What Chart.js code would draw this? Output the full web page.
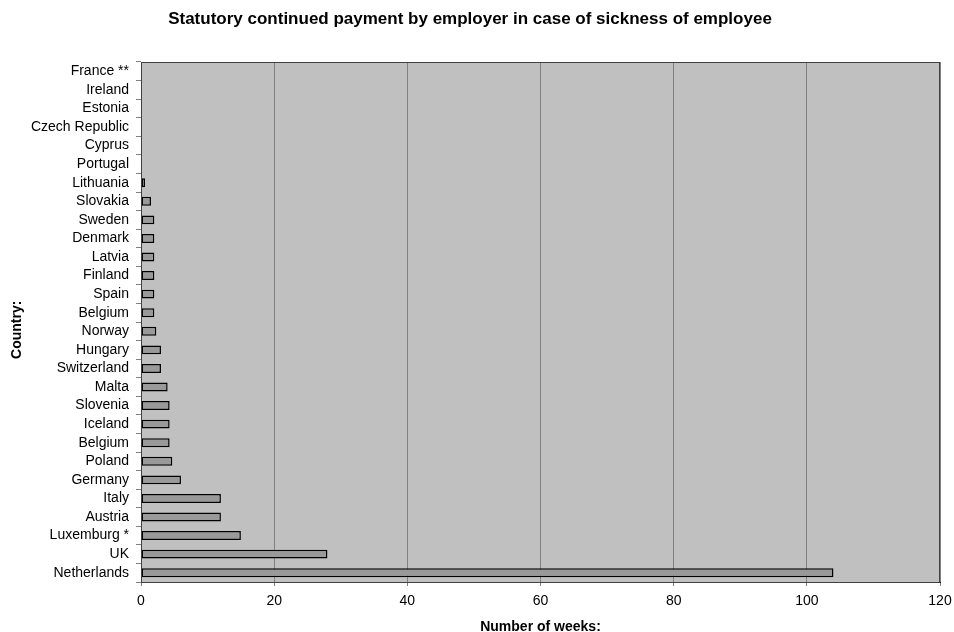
<!DOCTYPE html>
<html>
<head>
<meta charset="utf-8">
<script src="https://cdn.jsdelivr.net/npm/chart.js@4"></script>
<style>
  html, body { margin: 0; padding: 0; background: #fff; }
  #wrap { width: 954px; height: 632px; }
</style>
</head>
<body>
<div id="wrap"><canvas id="sick-chart" width="954" height="632"></canvas></div>
<script>
// countries, top to bottom as in the picture
const countries = [
  "France **", "Ireland", "Estonia", "Czech Republic", "Cyprus", "Portugal",
  "Lithuania", "Slovakia", "Sweden", "Denmark", "Latvia", "Finland", "Spain",
  "Belgium", "Norway", "Hungary", "Switzerland", "Malta", "Slovenia", "Iceland",
  "Belgium", "Poland", "Germany", "Italy", "Austria", "Luxemburg *", "UK", "Netherlands"
];
// number of weeks of continued payment
const weeks = [
  0, 0, 0, 0, 0, 0,
  0.6, 1.5, 2, 2, 2, 2, 2,
  2, 2.3, 3, 3, 4, 4.3, 4.3,
  4.3, 4.7, 6, 12, 12, 15, 28, 104
];
const xMin = 0;
const xMax = 120;
const xStep = 20;

// grey plot background + frame
const plotFrame = {
  id: "plotFrame",
  beforeDraw(chart) {
    const { ctx, chartArea: a } = chart;
    ctx.save();
    ctx.fillStyle = "#c0c0c0";
    ctx.fillRect(a.left, a.top, a.right - a.left, a.bottom - a.top);
    ctx.restore();
  },
  afterDraw(chart) {
    const { ctx, chartArea: a } = chart;
    ctx.save();
    ctx.strokeStyle = "#404040";
    ctx.lineWidth = 1;
    ctx.strokeRect(a.left + 0.5, a.top + 0.5, a.right - a.left - 1, a.bottom - a.top);
    ctx.restore();
  }
};

Chart.defaults.font.family = "Arial, 'Liberation Sans', sans-serif";
Chart.defaults.color = "#000";

const ctx = document.getElementById("sick-chart").getContext("2d");
new Chart(ctx, {
  type: "bar",
  data: {
    labels: countries,
    datasets: [
      {
        label: "Weeks",
        data: weeks,
        backgroundColor: "#999999",
        borderColor: "#000000",
        borderWidth: 1.5,
        borderSkipped: false,
        barPercentage: 0.48,
        categoryPercentage: 1,
      },
    ],
  },
  options: {
    indexAxis: "y",
    responsive: false,
    animation: false,
    layout: { padding: { left: 0, right: 14, top: 0, bottom: 0 } },
    plugins: {
      legend: { display: false },
      tooltip: { enabled: false },
      title: {
        display: true,
        text: "Statutory continued payment by employer in case of sickness of employee",
        font: { size: 17, weight: "bold" },
        padding: { top: 9, bottom: 32.6 },
        color: "#000",
      },
    },
    scales: {
      x: {
        min: xMin,
        max: xMax,
        ticks: { stepSize: xStep, font: { size: 14 }, padding: 7 },
        grid: { color: "#808080", lineWidth: 1, tickLength: 4 },
        border: { color: "#000", width: 1 },
        title: {
          display: true,
          text: "Number of weeks:",
          font: { size: 14, weight: "bold", lineHeight: 1 },
          padding: { top: 0, bottom: -2 },
        },
        afterFit(scale) {
          scale.height = 50;
          scale.paddingRight = 0;
          scale.paddingLeft = 0;
        },
      },
      y: {
        ticks: { font: { size: 14 }, padding: 7, autoSkip: false },
        grid: { drawOnChartArea: false, offset: true, tickLength: 5, color: "#808080" },
        border: { color: "#000", width: 1 },
        title: {
          display: true,
          text: "Country:    ",
          font: { size: 14, weight: "bold" },
          padding: { top: 9, bottom: 0 },
        },
        afterFit(scale) {
          scale.width = 141;
          scale.paddingTop = 0;
          scale.paddingBottom = 0;
        },
      },
    },
  },
  plugins: [plotFrame],
});
</script>
</body>
</html>
